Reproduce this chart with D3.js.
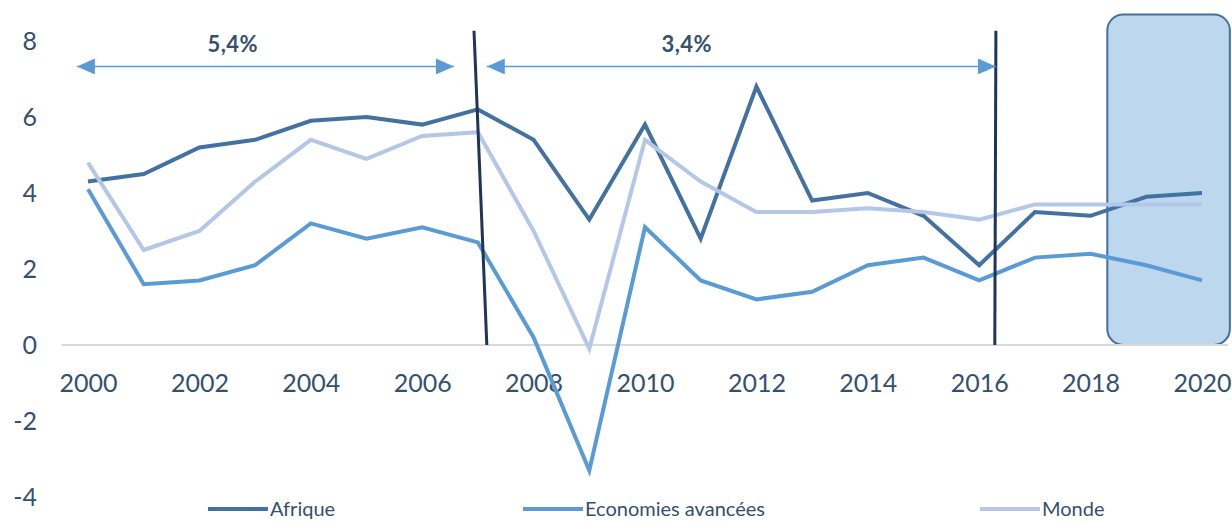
<!DOCTYPE html>
<html>
<head>
<meta charset="utf-8">
<script src="https://cdn.jsdelivr.net/npm/d3@7/dist/d3.min.js"></script>
<style>
  html, body { margin: 0; padding: 0; background: #ffffff; }
  svg { display: block; }
  text { font-family: Lato, "Open Sans", sans-serif; }
</style>
</head>
<body>
<svg id="chart" width="1232" height="523"></svg>
<script>
// Croissance du PIB réel (%), 2000–2020
const years = d3.range(2000, 2021);
const afrique = [4.3, 4.5, 5.2, 5.4, 5.9, 6.0, 5.8, 6.2, 5.4, 3.3, 5.8, 2.8, 6.8, 3.8, 4.0, 3.4, 2.1, 3.5, 3.4, 3.9, 4.0];
const economiesAvancees = [4.1, 1.6, 1.7, 2.1, 3.2, 2.8, 3.1, 2.7, 0.2, -3.3, 3.1, 1.7, 1.2, 1.4, 2.1, 2.3, 1.7, 2.3, 2.4, 2.1, 1.7];
const monde = [4.8, 2.5, 3.0, 4.3, 5.4, 4.9, 5.5, 5.6, 3.0, -0.1, 5.4, 4.3, 3.5, 3.5, 3.6, 3.5, 3.3, 3.7, 3.7, 3.7, 3.7];
const seriesNames = ["Afrique", "Economies avancées", "Monde"];
const yTicks = [-4, -2, 0, 2, 4, 6, 8];
const xTicks = [2000, 2002, 2004, 2006, 2008, 2010, 2012, 2014, 2016, 2018, 2020];

// Périodes annotées et taux moyens
const periodLabels = ["5,4%", "3,4%"];
const periodStarts = [1999.8, 2007.16];
const periodEnds = [2006.57, 2016.3];
const periodLabelX = [2002.6, 2010.75];
const breakYears = [[2006.93, 2007.16], [2016.3, 2016.28]];
const forecastStart = 2018.3;
const forecastEnd = 2020.5;

const colors = ["#4472a0", "#5b9bd5", "#b4c7e7"];
const textColor = "#34506f";

const svg = d3.select("#chart");
const x = d3.scaleLinear().domain([2000, 2020]).range([88, 1202]);
const y = d3.scaleLinear().domain([-4, 8]).range([497, 41]);

// Zone des prévisions
svg.append("rect")
  .attr("x", x(forecastStart))
  .attr("y", y(8.7))
  .attr("width", x(forecastEnd) - x(forecastStart))
  .attr("height", y(0) - y(8.7))
  .attr("rx", 16).attr("ry", 16)
  .attr("fill", "#bdd7ee")
  .attr("stroke", "#41719c")
  .attr("stroke-width", 2);

// Ligne du zéro
svg.append("line")
  .attr("x1", x(1999.53)).attr("x2", x(2020.47))
  .attr("y1", y(0)).attr("y2", y(0))
  .attr("stroke", "#d9d9d9").attr("stroke-width", 2);

// Axe des abscisses
const xAxis = svg.append("g")
  .attr("transform", `translate(0,${y(0)})`)
  .call(d3.axisBottom(x).tickValues(xTicks).tickFormat(d3.format("d")).tickSize(0).tickPadding(28));
xAxis.select(".domain").remove();
xAxis.selectAll("text")
  .attr("fill", textColor)
  .style("font-size", "25px")
  .attr("dy", "0.32em")
  .attr("y", 39);

// Axe des ordonnées
const yAxis = svg.append("g")
  .attr("transform", "translate(37,0)")
  .call(d3.axisLeft(y).tickValues(yTicks).tickFormat(d => String(d)).tickSize(0).tickPadding(0));
yAxis.select(".domain").remove();
yAxis.selectAll("text")
  .attr("fill", textColor)
  .style("font-size", "25px");

// Courbes
const line = d3.line().x((d, i) => x(years[i])).y(d => y(d));
[afrique, economiesAvancees, monde].forEach((vals, k) => {
  svg.append("path")
    .datum(vals)
    .attr("d", line)
    .attr("fill", "none")
    .attr("stroke", colors[k])
    .attr("stroke-width", 4)
    .attr("stroke-linejoin", "miter");
});

// Ruptures de période
breakYears.forEach(([top, bottom]) => {
  svg.append("line")
    .attr("x1", x(top)).attr("y1", y(8.27))
    .attr("x2", x(bottom)).attr("y2", y(0))
    .attr("stroke", "#1f3557")
    .attr("stroke-width", 3);
});

// Flèches doubles
const defs = svg.append("defs");
["start", "end"].forEach(kind => {
  defs.append("marker")
    .attr("id", "arrow-" + kind)
    .attr("viewBox", "0 0 18 16")
    .attr("refX", kind === "end" ? 18 : 0)
    .attr("refY", 8)
    .attr("markerWidth", 18)
    .attr("markerHeight", 16)
    .attr("markerUnits", "userSpaceOnUse")
    .attr("orient", "auto")
    .append("path")
    .attr("d", kind === "end" ? "M0,0 L18,8 L0,16 Z" : "M18,0 L0,8 L18,16 Z")
    .attr("fill", "#5b9bd5");
});
const arrowY = 7.33;
periodLabels.forEach((lab, i) => {
  svg.append("line")
    .attr("x1", x(periodStarts[i])).attr("x2", x(periodEnds[i]))
    .attr("y1", y(arrowY)).attr("y2", y(arrowY))
    .attr("stroke", "#5b9bd5")
    .attr("stroke-width", 1.5)
    .attr("marker-start", "url(#arrow-start)")
    .attr("marker-end", "url(#arrow-end)");
  svg.append("text")
    .attr("x", x(periodLabelX[i]))
    .attr("y", 52)
    .attr("text-anchor", "middle")
    .attr("fill", textColor)
    .style("font-size", "22px")
    .style("font-weight", "bold")
    .style("letter-spacing", "0.5px")
    .text(lab);
});

// Légende
const legendX = [208, 523, 980];
const legend = svg.append("g").attr("transform", "translate(0,509)");
seriesNames.forEach((name, k) => {
  legend.append("line")
    .attr("x1", legendX[k]).attr("x2", legendX[k] + 60)
    .attr("y1", 0).attr("y2", 0)
    .attr("stroke", colors[k]).attr("stroke-width", 4);
  legend.append("text")
    .attr("x", legendX[k] + 62)
    .attr("y", 0)
    .attr("dy", "0.36em")
    .attr("fill", textColor)
    .style("font-size", "20px")
    .text(name);
});
</script>
</body>
</html>
